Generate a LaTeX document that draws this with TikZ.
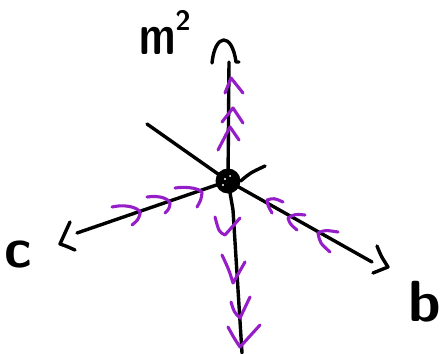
\documentclass[tikz,border=0pt]{standalone}
\definecolor{vio}{RGB}{150,30,200}
\begin{document}
\begin{tikzpicture}[x=1pt,y=-1pt,
  ink/.style={line width=3.4pt,line cap=round,line join=round},
  chev/.style={vio,line width=3.1pt,line cap=round,line join=round},
  lbl/.style={inner sep=0pt,outer sep=0pt}]
\useasboundingbox (0,0) rectangle (441,353);
% key points
\coordinate (T) at (229,62);
\coordinate (B) at (242,353);
\coordinate (UL) at (147,124);
\coordinate (C) at (77,233);
\coordinate (Bt) at (372,262);
\coordinate (UR) at (265,166);
\node[circle,fill=black,minimum size=25pt,inner sep=0pt] (o) at (228,181) {};
% axes
\draw[ink] (B) -- (233,210) -- (o.center) -- (T);
\draw[ink] (UL) -- (o.center);
\draw[ink] (C) -- (o.center);
\draw[ink] (o.center) -- (Bt);
\draw[ink] (o.east) .. controls (250,173) .. (UR);
% speckles in the dot
\fill[white] (225,179) circle (1.2pt) (223,185) circle (1.2pt) (230,176) circle (1pt);
% arrow heads
\draw[ink] (212,63) .. controls (215,33) and (232,32) .. (236,62) -- (239,62);
\draw[ink] (70,222) -- (60,244) .. controls (66,246) .. (75,250);
\draw[ink] (377,246) .. controls (381,256) .. (388,267) -- (373,273);
% purple chevrons, upper (pointing up)
\draw[chev] (225,93) -- (231,78) -- (243,93);
\draw[chev] (222,122) -- (233,108) -- (243,123);
\draw[chev] (218,150) -- (230,127) -- (239,140);
% lower (pointing down)
\draw[chev] (215,217) .. controls (219,232) .. (225,235) -- (240,218);
\draw[chev] (222,255) .. controls (229,270) .. (233,283) -- (245,262);
\draw[chev] (231,302) .. controls (234,312) .. (240,318) -- (250,297);
\draw[chev] (228,327) .. controls (234,338) .. (240,347) -- (260,325);
% left (pointing right)
\draw[chev] (112,207) .. controls (130,203) and (142,210) .. (140,214) .. controls (138,220) .. (132,225);
\draw[chev] (147,197) .. controls (160,195) and (170,199) .. (170,204) .. controls (169,209) .. (165,213);
\draw[chev] (175,188) .. controls (188,186) and (202,189) .. (202,193) .. controls (201,200) .. (197,207);
% right (pointing left)
\draw[chev] (283,202) .. controls (274,198) .. (267,200) .. controls (268,206) .. (272,213);
\draw[chev] (305,215) .. controls (295,214) .. (288,218) .. controls (290,224) .. (297,230);
\draw[chev] (338,232) .. controls (325,230) .. (318,233) .. controls (320,243) .. (330,252);
% labels
\node[lbl,font=\sffamily\bfseries\fontsize{40}{40}\selectfont,anchor=base west] (m2) at (139,55)
  {\scalebox{1.05}[1.45]{m}\raisebox{24pt}{\fontsize{28}{28}\selectfont 2}};
\node[lbl,font=\sffamily\bfseries\fontsize{56}{56}\selectfont,anchor=base west] (c) at (5,267) {c};
\node[lbl,font=\sffamily\bfseries\fontsize{58}{58}\selectfont,anchor=base west] (b) at (408,321) {b};
\end{tikzpicture}
\end{document}
